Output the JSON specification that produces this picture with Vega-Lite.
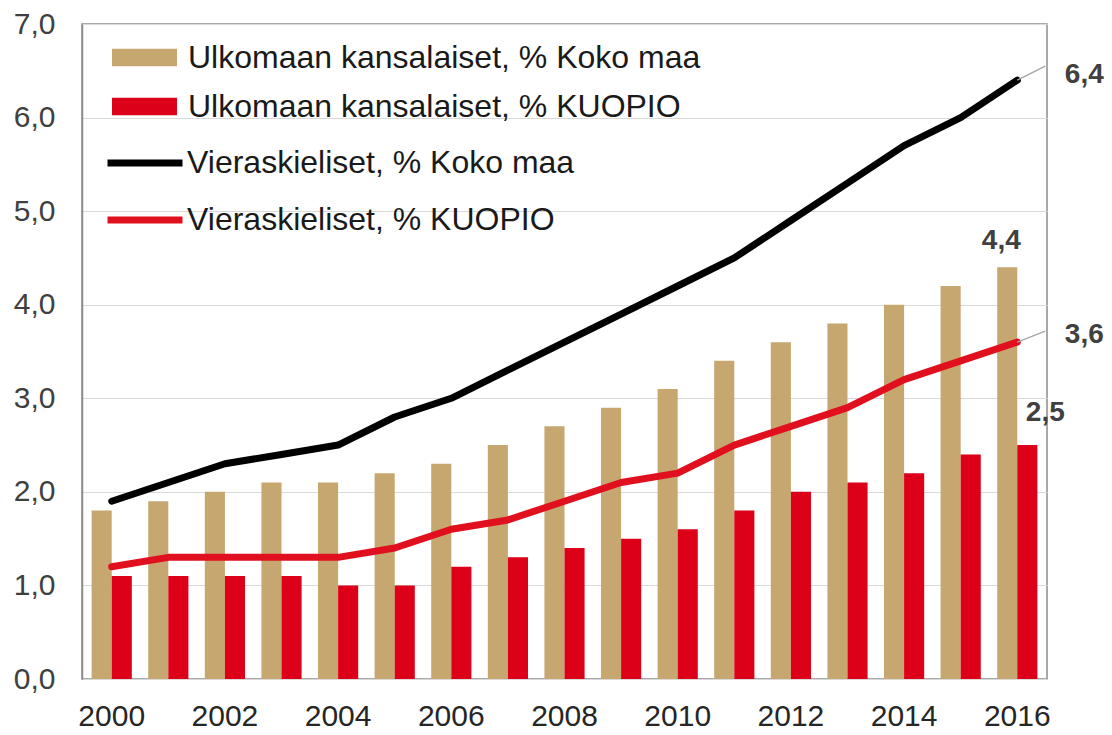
{
  "$schema": "https://vega.github.io/schema/vega-lite/v6.json",
  "width": 965,
  "height": 655,
  "autosize": {"type": "none"},
  "padding": {"left": 82, "top": 24, "right": 65, "bottom": 56},
  "background": "white",
  "config": {
    "locale": {"number": {"decimal": ",", "thousands": " ", "grouping": [3], "currency": ["", " €"]}},
    "view": {"stroke": "#8c8c8c", "strokeWidth": 1.5},
    "font": "Liberation Sans",
    "text": {"font": "Liberation Sans"}
  },
  "data": {
    "values": [
      {"year": "2000", "series": "Ulkomaan kansalaiset, % Koko maa", "value": 1.8},
      {"year": "2001", "series": "Ulkomaan kansalaiset, % Koko maa", "value": 1.9},
      {"year": "2002", "series": "Ulkomaan kansalaiset, % Koko maa", "value": 2.0},
      {"year": "2003", "series": "Ulkomaan kansalaiset, % Koko maa", "value": 2.1},
      {"year": "2004", "series": "Ulkomaan kansalaiset, % Koko maa", "value": 2.1},
      {"year": "2005", "series": "Ulkomaan kansalaiset, % Koko maa", "value": 2.2},
      {"year": "2006", "series": "Ulkomaan kansalaiset, % Koko maa", "value": 2.3},
      {"year": "2007", "series": "Ulkomaan kansalaiset, % Koko maa", "value": 2.5},
      {"year": "2008", "series": "Ulkomaan kansalaiset, % Koko maa", "value": 2.7},
      {"year": "2009", "series": "Ulkomaan kansalaiset, % Koko maa", "value": 2.9},
      {"year": "2010", "series": "Ulkomaan kansalaiset, % Koko maa", "value": 3.1},
      {"year": "2011", "series": "Ulkomaan kansalaiset, % Koko maa", "value": 3.4},
      {"year": "2012", "series": "Ulkomaan kansalaiset, % Koko maa", "value": 3.6},
      {"year": "2013", "series": "Ulkomaan kansalaiset, % Koko maa", "value": 3.8},
      {"year": "2014", "series": "Ulkomaan kansalaiset, % Koko maa", "value": 4.0},
      {"year": "2015", "series": "Ulkomaan kansalaiset, % Koko maa", "value": 4.2},
      {"year": "2016", "series": "Ulkomaan kansalaiset, % Koko maa", "value": 4.4},
      {"year": "2000", "series": "Ulkomaan kansalaiset, % KUOPIO", "value": 1.1},
      {"year": "2001", "series": "Ulkomaan kansalaiset, % KUOPIO", "value": 1.1},
      {"year": "2002", "series": "Ulkomaan kansalaiset, % KUOPIO", "value": 1.1},
      {"year": "2003", "series": "Ulkomaan kansalaiset, % KUOPIO", "value": 1.1},
      {"year": "2004", "series": "Ulkomaan kansalaiset, % KUOPIO", "value": 1.0},
      {"year": "2005", "series": "Ulkomaan kansalaiset, % KUOPIO", "value": 1.0},
      {"year": "2006", "series": "Ulkomaan kansalaiset, % KUOPIO", "value": 1.2},
      {"year": "2007", "series": "Ulkomaan kansalaiset, % KUOPIO", "value": 1.3},
      {"year": "2008", "series": "Ulkomaan kansalaiset, % KUOPIO", "value": 1.4},
      {"year": "2009", "series": "Ulkomaan kansalaiset, % KUOPIO", "value": 1.5},
      {"year": "2010", "series": "Ulkomaan kansalaiset, % KUOPIO", "value": 1.6},
      {"year": "2011", "series": "Ulkomaan kansalaiset, % KUOPIO", "value": 1.8},
      {"year": "2012", "series": "Ulkomaan kansalaiset, % KUOPIO", "value": 2.0},
      {"year": "2013", "series": "Ulkomaan kansalaiset, % KUOPIO", "value": 2.1},
      {"year": "2014", "series": "Ulkomaan kansalaiset, % KUOPIO", "value": 2.2},
      {"year": "2015", "series": "Ulkomaan kansalaiset, % KUOPIO", "value": 2.4},
      {"year": "2016", "series": "Ulkomaan kansalaiset, % KUOPIO", "value": 2.5},
      {"year": "2000", "series": "Vieraskieliset, % Koko maa", "value": 1.9},
      {"year": "2001", "series": "Vieraskieliset, % Koko maa", "value": 2.1},
      {"year": "2002", "series": "Vieraskieliset, % Koko maa", "value": 2.3},
      {"year": "2003", "series": "Vieraskieliset, % Koko maa", "value": 2.4},
      {"year": "2004", "series": "Vieraskieliset, % Koko maa", "value": 2.5},
      {"year": "2005", "series": "Vieraskieliset, % Koko maa", "value": 2.8},
      {"year": "2006", "series": "Vieraskieliset, % Koko maa", "value": 3.0},
      {"year": "2007", "series": "Vieraskieliset, % Koko maa", "value": 3.3},
      {"year": "2008", "series": "Vieraskieliset, % Koko maa", "value": 3.6},
      {"year": "2009", "series": "Vieraskieliset, % Koko maa", "value": 3.9},
      {"year": "2010", "series": "Vieraskieliset, % Koko maa", "value": 4.2},
      {"year": "2011", "series": "Vieraskieliset, % Koko maa", "value": 4.5},
      {"year": "2012", "series": "Vieraskieliset, % Koko maa", "value": 4.9},
      {"year": "2013", "series": "Vieraskieliset, % Koko maa", "value": 5.3},
      {"year": "2014", "series": "Vieraskieliset, % Koko maa", "value": 5.7},
      {"year": "2015", "series": "Vieraskieliset, % Koko maa", "value": 6.0},
      {"year": "2016", "series": "Vieraskieliset, % Koko maa", "value": 6.4},
      {"year": "2000", "series": "Vieraskieliset, % KUOPIO", "value": 1.2},
      {"year": "2001", "series": "Vieraskieliset, % KUOPIO", "value": 1.3},
      {"year": "2002", "series": "Vieraskieliset, % KUOPIO", "value": 1.3},
      {"year": "2003", "series": "Vieraskieliset, % KUOPIO", "value": 1.3},
      {"year": "2004", "series": "Vieraskieliset, % KUOPIO", "value": 1.3},
      {"year": "2005", "series": "Vieraskieliset, % KUOPIO", "value": 1.4},
      {"year": "2006", "series": "Vieraskieliset, % KUOPIO", "value": 1.6},
      {"year": "2007", "series": "Vieraskieliset, % KUOPIO", "value": 1.7},
      {"year": "2008", "series": "Vieraskieliset, % KUOPIO", "value": 1.9},
      {"year": "2009", "series": "Vieraskieliset, % KUOPIO", "value": 2.1},
      {"year": "2010", "series": "Vieraskieliset, % KUOPIO", "value": 2.2},
      {"year": "2011", "series": "Vieraskieliset, % KUOPIO", "value": 2.5},
      {"year": "2012", "series": "Vieraskieliset, % KUOPIO", "value": 2.7},
      {"year": "2013", "series": "Vieraskieliset, % KUOPIO", "value": 2.9},
      {"year": "2014", "series": "Vieraskieliset, % KUOPIO", "value": 3.2},
      {"year": "2015", "series": "Vieraskieliset, % KUOPIO", "value": 3.4},
      {"year": "2016", "series": "Vieraskieliset, % KUOPIO", "value": 3.6}
    ]
  },
  "encoding": {
    "x": {
      "field": "year", "type": "ordinal",
      "scale": {"paddingInner": 0.29, "paddingOuter": 0.17},
      "axis": {
        "title": null, "labelAngle": 0, "ticks": false, "domain": false, "grid": false,
        "values": ["2000", "2002", "2004", "2006", "2008", "2010", "2012", "2014", "2016"],
        "labelFont": "Liberation Sans", "labelFontSize": 30, "labelColor": "#262626", "labelPadding": 22
      }
    },
    "y": {
      "field": "value", "type": "quantitative",
      "scale": {"domain": [0, 7], "nice": false, "zero": true},
      "axis": {
        "title": null, "values": [0, 1, 2, 3, 4, 5, 6, 7], "format": ".1f",
        "grid": true, "gridColor": "#d9d9d9", "gridWidth": 1, "ticks": false,
        "domainColor": "#8c8c8c", "domainWidth": 1.5,
        "labelFont": "Liberation Sans", "labelFontSize": 30, "labelColor": "#404040", "labelPadding": 27
      }
    }
  },
  "layer": [
    {
      "transform": [{"filter": {"field": "series", "oneOf": ["Ulkomaan kansalaiset, % Koko maa", "Ulkomaan kansalaiset, % KUOPIO"]}}],
      "mark": {"type": "bar"},
      "encoding": {
        "xOffset": {"field": "series", "type": "nominal", "scale": {"domain": ["Ulkomaan kansalaiset, % Koko maa", "Ulkomaan kansalaiset, % KUOPIO"], "paddingInner": 0, "paddingOuter": 0}},
        "fill": {
          "field": "series", "type": "nominal",
          "scale": {"domain": ["Ulkomaan kansalaiset, % Koko maa", "Ulkomaan kansalaiset, % KUOPIO"], "range": ["#c6a770", "#dc0019"]},
          "legend": {
            "orient": "none", "legendX": 30, "legendY": 1, "title": null, "padding": 0,
            "symbolType": "M-1,-0.27L1,-0.27L1,0.27L-1,0.27Z", "symbolSize": 4225, "symbolStrokeWidth": 0,
            "labelFont": "Liberation Sans", "labelFontSize": 32, "labelOffset": 11, "labelLimit": 900,
            "labelColor": "#1a1a1a", "rowPadding": -2
          }
        }
      }
    },
    {
      "transform": [{"filter": {"field": "series", "oneOf": ["Vieraskieliset, % Koko maa", "Vieraskieliset, % KUOPIO"]}}],
      "mark": {"type": "line", "strokeWidth": 7, "strokeCap": "round", "strokeJoin": "round"},
      "encoding": {
        "stroke": {
          "field": "series", "type": "nominal",
          "scale": {"domain": ["Vieraskieliset, % Koko maa", "Vieraskieliset, % KUOPIO"], "range": ["#000000", "#e0101e"]},
          "legend": {
            "orient": "none", "legendX": 22, "legendY": 98, "title": null, "padding": 0,
            "symbolType": "stroke", "symbolSize": 5625, "symbolStrokeWidth": 7,
            "labelFont": "Liberation Sans", "labelFontSize": 32, "labelOffset": 1, "labelLimit": 900,
            "labelColor": "#1a1a1a", "rowPadding": -40
          }
        }
      }
    },
    {
      "transform": [{"filter": {"field": "year", "equal": "2016"}}, {"filter": {"field": "series", "oneOf": ["Vieraskieliset, % Koko maa"]}}],
      "mark": {"type": "rule", "color": "#a6a6a6", "strokeWidth": 1.2, "x2Offset": 28, "y2Offset": -14},
      "encoding": {"x2": {"field": "year"}, "y2": {"field": "value"}}
    },
    {
      "transform": [{"filter": {"field": "year", "equal": "2016"}}, {"filter": {"field": "series", "oneOf": ["Vieraskieliset, % KUOPIO"]}}],
      "mark": {"type": "rule", "color": "#a6a6a6", "strokeWidth": 1.2, "x2Offset": 28, "y2Offset": -11},
      "encoding": {"x2": {"field": "year"}, "y2": {"field": "value"}}
    },
    {
      "transform": [{"filter": {"field": "year", "equal": "2016"}}, {"filter": {"field": "series", "equal": "Vieraskieliset, % Koko maa"}}],
      "mark": {"type": "text", "dx": 67, "dy": -5, "fontSize": 28, "fontWeight": "bold", "color": "#404040", "font": "Liberation Sans"},
      "encoding": {"text": {"field": "value", "type": "quantitative", "format": ".1f"}}
    },
    {
      "transform": [{"filter": {"field": "year", "equal": "2016"}}, {"filter": {"field": "series", "equal": "Ulkomaan kansalaiset, % Koko maa"}}],
      "mark": {"type": "text", "dx": -16, "dy": -26, "fontSize": 28, "fontWeight": "bold", "color": "#404040", "font": "Liberation Sans"},
      "encoding": {"text": {"field": "value", "type": "quantitative", "format": ".1f"}}
    },
    {
      "transform": [{"filter": {"field": "year", "equal": "2016"}}, {"filter": {"field": "series", "equal": "Vieraskieliset, % KUOPIO"}}],
      "mark": {"type": "text", "dx": 67, "dy": -7, "fontSize": 28, "fontWeight": "bold", "color": "#404040", "font": "Liberation Sans"},
      "encoding": {"text": {"field": "value", "type": "quantitative", "format": ".1f"}}
    },
    {
      "transform": [{"filter": {"field": "year", "equal": "2016"}}, {"filter": {"field": "series", "equal": "Ulkomaan kansalaiset, % KUOPIO"}}],
      "mark": {"type": "text", "dx": 28, "dy": -32, "fontSize": 28, "fontWeight": "bold", "color": "#404040", "font": "Liberation Sans"},
      "encoding": {"text": {"field": "value", "type": "quantitative", "format": ".1f"}}
    }
  ]
}
